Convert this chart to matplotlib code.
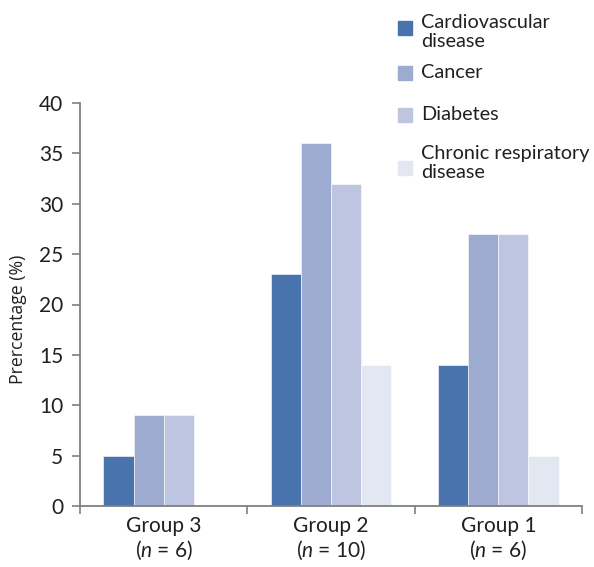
import matplotlib
matplotlib.use('Agg')
import matplotlib.pyplot as plt
from matplotlib.patches import Rectangle
import numpy as np

plt.rcParams['font.family'] = ['Lato', 'DejaVu Sans']
plt.rcParams['mathtext.fontset'] = 'custom'
plt.rcParams['mathtext.rm'] = 'Lato'
plt.rcParams['mathtext.it'] = 'Lato:italic'

groups = ['Group 3\n($n$ = 6)', 'Group 2\n($n$ = 10)', 'Group 1\n($n$ = 6)']
diseases = ['Cardiovascular\ndisease', 'Cancer', 'Diabetes', 'Chronic respiratory\ndisease']
cvd = [5, 23, 14]
cancer = [9, 36, 27]
diabetes = [9, 32, 27]
chronic = [0, 14, 5]
colors = ['#4873ad', '#9dabd1', '#bdc5e0', '#e3e7f2']

series = [cvd, cancer, diabetes, chronic]

W, H = 594, 567
fig = plt.figure(figsize=(W/100, H/100), dpi=100)
ax = fig.add_axes([80/W, 1-506/H, 502/W, 403/H])

x = np.arange(len(groups)) + 0.5
w = 0.18
for i, vals in enumerate(series):
    ax.bar(x + (i - 1.5)*w, vals, width=w, color=colors[i],
           edgecolor='white', linewidth=0.4)

ax.set_xlim(0, 3)
ax.set_ylim(0, 40)
ax.set_yticks(np.arange(0, 41, 5))
ax.set_xticks([0, 1, 2, 3])
ax.set_xticklabels([])
ax.set_xticks(x, minor=True)
ax.set_xticklabels(groups, minor=True, fontsize=15, color='#231f20', linespacing=1.15)
ax.tick_params(axis='x', which='minor', length=0, pad=7)
ax.tick_params(axis='x', which='major', length=6, width=1.2, color='#808080', direction='out')
ax.tick_params(axis='y', length=6, width=1.2, color='#808080', labelsize=15,
               labelcolor='#231f20', pad=6)

for s in ['top', 'right']:
    ax.spines[s].set_visible(False)
for s in ['left', 'bottom']:
    ax.spines[s].set_color('#808080')
    ax.spines[s].set_linewidth(1.3)

ax.set_ylabel('Prercentage (%)', fontsize=12.7, family=['Open Sans', 'DejaVu Sans'],
              color='#231f20')
ax.yaxis.set_label_coords(-0.105, 0.464)

# legend, laid out by hand like the original
text_y = [32, 73, 115, 163]
box_y = [28, 73, 115, 168]
for i, lab in enumerate(diseases):
    fig.patches.append(Rectangle((398/W, 1-(box_y[i]+7)/H), 14/W, 14/H,
                                 transform=fig.transFigure, color=colors[i]))
    fig.text(421/W, 1-text_y[i]/H, lab, fontsize=14.3, color='#231f20',
             va='center', ha='left', linespacing=1.2)

fig.savefig('out.png', dpi=100)
